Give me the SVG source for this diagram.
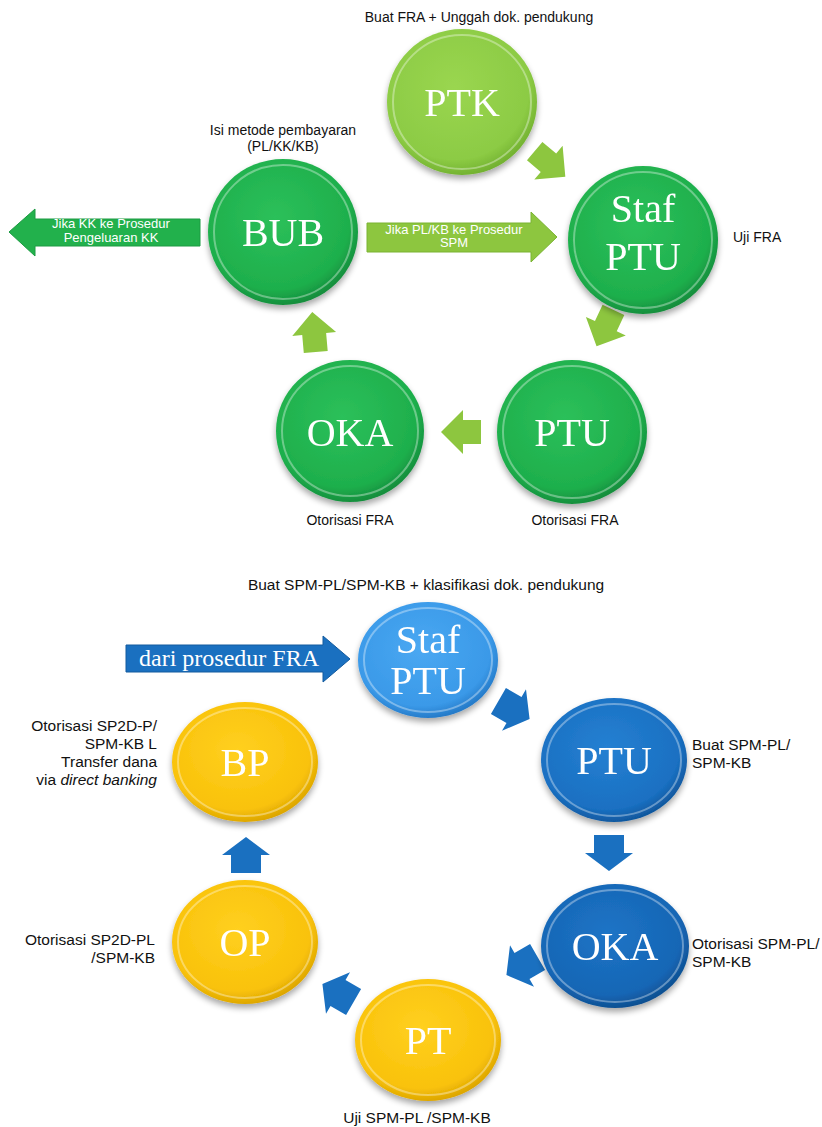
<svg xmlns="http://www.w3.org/2000/svg" width="822" height="1127" viewBox="0 0 822 1127">
  <defs>
    <radialGradient id="gLight" cx="45%" cy="40%" r="62%">
      <stop offset="0" stop-color="#9ad650"/>
      <stop offset="0.8" stop-color="#8ccb44"/>
      <stop offset="1" stop-color="#6fae2e"/>
    </radialGradient>
    <radialGradient id="gGreen" cx="45%" cy="40%" r="62%">
      <stop offset="0" stop-color="#2cc05a"/>
      <stop offset="0.8" stop-color="#1eaf4c"/>
      <stop offset="1" stop-color="#12893a"/>
    </radialGradient>
    <radialGradient id="gSky" cx="45%" cy="40%" r="62%">
      <stop offset="0" stop-color="#4aa8f2"/>
      <stop offset="0.8" stop-color="#3a99e8"/>
      <stop offset="1" stop-color="#2276c4"/>
    </radialGradient>
    <radialGradient id="gBlue" cx="45%" cy="40%" r="62%">
      <stop offset="0" stop-color="#2580d2"/>
      <stop offset="0.8" stop-color="#1a70c2"/>
      <stop offset="1" stop-color="#0f5499"/>
    </radialGradient>
    <radialGradient id="gBlueDk" cx="45%" cy="40%" r="62%">
      <stop offset="0" stop-color="#1d74c6"/>
      <stop offset="0.8" stop-color="#1666b5"/>
      <stop offset="1" stop-color="#0d4c8c"/>
    </radialGradient>
    <radialGradient id="gGold" cx="45%" cy="40%" r="62%">
      <stop offset="0" stop-color="#ffd020"/>
      <stop offset="0.8" stop-color="#f9c20a"/>
      <stop offset="1" stop-color="#d9a200"/>
    </radialGradient>
    <filter id="shadow" x="-20%" y="-20%" width="140%" height="150%">
      <feGaussianBlur in="SourceAlpha" stdDeviation="3"/>
      <feOffset dy="4" result="b"/>
      <feComponentTransfer><feFuncA type="linear" slope="0.35"/></feComponentTransfer>
      <feMerge><feMergeNode/><feMergeNode in="SourceGraphic"/></feMerge>
    </filter>
    <path id="arrowS" d="M-20,-12 H-2 V-22 L20,0 L-2,22 V12 H-20 Z"/>
    <path id="arrowB" d="M-18,-15 H0 V-24 L18,0 L0,24 V15 H-18 Z"/>
  </defs>
  <style>
    .ring { fill: none; stroke: #ffffff; stroke-opacity: 0.35; stroke-width: 2; }
    .node { font-family: "Liberation Serif", "DejaVu Serif", serif; fill: #ffffff; text-anchor: middle; font-size: 40px; }
    .lbl { font-family: "Liberation Sans", Arial, sans-serif; fill: #111111; font-size: 14px; }
    .lbl2 { font-family: "Liberation Sans", Arial, sans-serif; fill: #111111; font-size: 15.5px; }
    .mid { text-anchor: middle; }
    .end { text-anchor: end; }
    .atext { font-family: "Liberation Sans", Arial, sans-serif; fill: #ffffff; font-size: 13px; text-anchor: middle; }
    .light { fill: #8dc63f; }
    .blue { fill: #1a70c0; }
  </style>

  <rect width="822" height="1127" fill="#ffffff"/>

  <!-- upper cycle connectors -->
  <g id="connectors-top">
    <use href="#arrowS" class="light" transform="translate(550,164) rotate(40)"/>
    <use href="#arrowS" class="light" transform="translate(605,328) rotate(115)"/>
    <use href="#arrowS" class="light" transform="translate(461,432) rotate(180)"/>
    <use href="#arrowS" class="light" transform="translate(314,332) rotate(-95)"/>
    <g id="to-spm">
      <path d="M367,223 H531 V212 L557,237 L531,262 V252 H367 Z" fill="#8dc63f" stroke="#7ab332" stroke-width="1"/>
      <text class="atext" x="454" y="234" font-size="13.5">Jika PL/KB ke Prosedur</text>
      <text class="atext" x="454" y="247" font-size="13.5">SPM</text>
    </g>
    <g id="to-kk">
      <path d="M200,219 H35 V209 L9,232 L35,256 V246 H200 Z" fill="#22b14c" stroke="#1c9a42" stroke-width="1"/>
      <text class="atext" x="111" y="228">Jika KK ke Prosedur</text>
      <text class="atext" x="111" y="242">Pengeluaran KK</text>
    </g>
  </g>

  <!-- upper cycle nodes -->
  <g id="ptk" filter="url(#shadow)">
    <ellipse cx="462" cy="102" rx="75" ry="73" fill="url(#gLight)"/>
    <ellipse cx="462" cy="102" rx="69" ry="67" class="ring"/>
    <text class="node" x="462" y="116">PTK</text>
  </g>
  <g id="staf-ptu-top" filter="url(#shadow)">
    <ellipse cx="643" cy="240" rx="75" ry="74" fill="url(#gGreen)"/>
    <ellipse cx="643" cy="240" rx="69" ry="68" class="ring"/>
    <text class="node" x="643" y="222">Staf</text>
    <text class="node" x="643" y="270">PTU</text>
  </g>
  <g id="ptu-top" filter="url(#shadow)">
    <ellipse cx="572" cy="432" rx="75" ry="72" fill="url(#gGreen)"/>
    <ellipse cx="572" cy="432" rx="69" ry="66" class="ring"/>
    <text class="node" x="572" y="446">PTU</text>
  </g>
  <g id="oka-top" filter="url(#shadow)">
    <ellipse cx="350" cy="431" rx="74" ry="71" fill="url(#gGreen)"/>
    <ellipse cx="350" cy="431" rx="68" ry="65" class="ring"/>
    <text class="node" x="350" y="446">OKA</text>
  </g>
  <g id="bub" filter="url(#shadow)">
    <ellipse cx="283" cy="232" rx="75" ry="73" fill="url(#gGreen)"/>
    <ellipse cx="283" cy="232" rx="69" ry="67" class="ring"/>
    <text class="node" x="283" y="246">BUB</text>
  </g>

  <!-- upper cycle labels -->
  <g id="labels-top">
    <text class="lbl mid" x="479" y="22">Buat FRA + Unggah dok. pendukung</text>
    <text class="lbl mid" x="283" y="135">Isi metode pembayaran</text>
    <text class="lbl mid" x="283" y="151">(PL/KK/KB)</text>
    <text class="lbl" x="733" y="242">Uji FRA</text>
    <text class="lbl mid" x="350" y="525">Otorisasi FRA</text>
    <text class="lbl mid" x="575" y="525">Otorisasi FRA</text>
  </g>

  <!-- lower cycle connectors -->
  <g id="connectors-bottom">
    <g id="from-fra">
      <path d="M126,645 H323 V636 L350,659 L323,682 V672 H126 Z" fill="#1a70c0" stroke="#135a9e" stroke-width="1"/>
      <text x="229" y="666" font-family="Liberation Serif, DejaVu Serif, serif" font-size="24" fill="#ffffff" text-anchor="middle">dari prosedur FRA</text>
    </g>
    <use href="#arrowB" class="blue" transform="translate(514,710) rotate(30)"/>
    <use href="#arrowB" class="blue" transform="translate(609,853) rotate(90)"/>
    <use href="#arrowB" class="blue" transform="translate(522,966) rotate(150)"/>
    <use href="#arrowB" class="blue" transform="translate(338,993) rotate(210)"/>
    <use href="#arrowB" class="blue" transform="translate(246,855) rotate(-90)"/>
  </g>

  <!-- lower cycle nodes -->
  <g id="staf-ptu-bottom" filter="url(#shadow)">
    <ellipse cx="428" cy="660" rx="70" ry="58" fill="url(#gSky)"/>
    <ellipse cx="428" cy="660" rx="64" ry="52" class="ring"/>
    <text class="node" x="428" y="653" font-size="35">Staf</text>
    <text class="node" x="428" y="694" font-size="35">PTU</text>
  </g>
  <g id="ptu-bottom" filter="url(#shadow)">
    <ellipse cx="614" cy="760" rx="73" ry="62" fill="url(#gBlue)"/>
    <ellipse cx="614" cy="760" rx="67" ry="56" class="ring"/>
    <text class="node" x="614" y="774">PTU</text>
  </g>
  <g id="oka-bottom" filter="url(#shadow)">
    <ellipse cx="615" cy="946" rx="74" ry="62" fill="url(#gBlueDk)"/>
    <ellipse cx="615" cy="946" rx="68" ry="56" class="ring"/>
    <text class="node" x="615" y="960">OKA</text>
  </g>
  <g id="pt" filter="url(#shadow)">
    <ellipse cx="428" cy="1040" rx="73" ry="61" fill="url(#gGold)"/>
    <ellipse cx="428" cy="1040" rx="67" ry="55" class="ring"/>
    <text class="node" x="428" y="1054">PT</text>
  </g>
  <g id="op" filter="url(#shadow)">
    <ellipse cx="245" cy="942" rx="73" ry="62" fill="url(#gGold)"/>
    <ellipse cx="245" cy="942" rx="67" ry="56" class="ring"/>
    <text class="node" x="245" y="956">OP</text>
  </g>
  <g id="bp" filter="url(#shadow)">
    <ellipse cx="245" cy="762" rx="73" ry="60" fill="url(#gGold)"/>
    <ellipse cx="245" cy="762" rx="67" ry="54" class="ring"/>
    <text class="node" x="245" y="776">BP</text>
  </g>

  <!-- lower cycle labels -->
  <g id="labels-bottom">
    <text class="lbl2 mid" x="426" y="590" font-size="15">Buat SPM-PL/SPM-KB + klasifikasi dok. pendukung</text>
    <text class="lbl2" x="692" y="750">Buat SPM-PL/</text>
    <text class="lbl2" x="692" y="768">SPM-KB</text>
    <text class="lbl2" x="692" y="949">Otorisasi SPM-PL/</text>
    <text class="lbl2" x="692" y="967">SPM-KB</text>
    <text class="lbl2 mid" x="417" y="1123">Uji SPM-PL /SPM-KB</text>
    <text class="lbl2 end" x="155" y="945">Otorisasi SP2D-PL</text>
    <text class="lbl2 end" x="155" y="963">/SPM-KB</text>
    <text class="lbl2 end" x="157" y="731">Otorisasi SP2D-P/</text>
    <text class="lbl2 end" x="157" y="749">SPM-KB L</text>
    <text class="lbl2 end" x="157" y="767">Transfer dana </text>
    <text class="lbl2 end" x="157" y="785">via <tspan font-style="italic">direct banking</tspan></text>
  </g>
</svg>
